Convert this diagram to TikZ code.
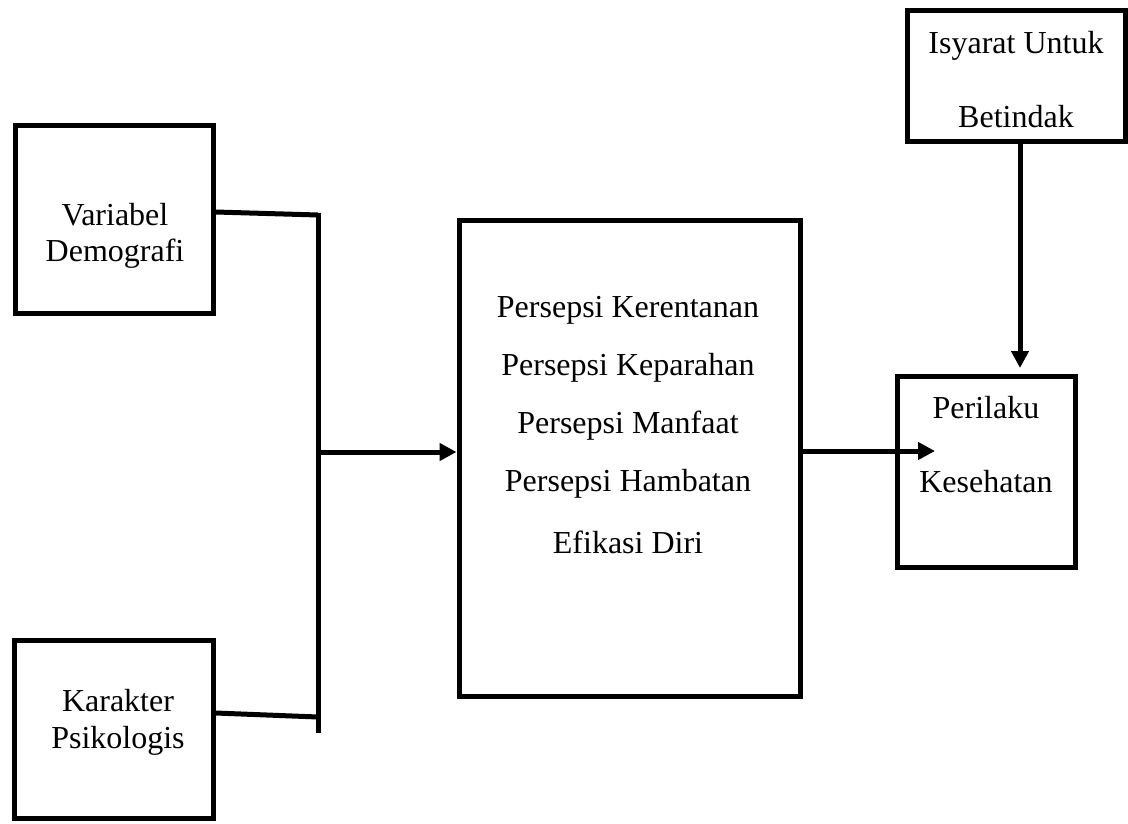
\documentclass[tikz,border=0pt]{standalone}
\usepackage{fontspec}
\setmainfont{Liberation Serif}
\usepackage{tikz}
\usetikzlibrary{positioning}
\usetikzlibrary{arrows.meta,calc}

\begin{document}
\begin{tikzpicture}[x=1pt, y=-1pt,
  kotak/.style={draw, line width=5pt, rectangle, inner sep=0pt},
  teks/.style={align=center, font=\fontsize{32}{36}\selectfont},
  garis/.style={line width=5pt},
  panah/.style={line width=5pt, -{Triangle[length=17pt,width=17pt]}}]

 \useasboundingbox (0,0) rectangle (1128,823);

 %kotak kiri
 \node[kotak, minimum width=198pt, minimum height=188pt] (demo) at (114,219) {};
 \node[teks] (demoT) at (115,236) {Variabel\\Demografi};

 \node[kotak, minimum width=199pt, minimum height=178pt] (psiko) at (113.5,729) {};
 \node[teks, font=\fontsize{32}{37}\selectfont] (psikoT) at (118,722) {Karakter\\Psikologis};

 %kotak tengah
 \node[kotak, minimum width=341pt, minimum height=476pt] (tengah) at (629.5,458) {};
 \foreach \i/\name in {0/Persepsi Kerentanan, 1/Persepsi Keparahan, 2/Persepsi Manfaat,
                       3/Persepsi Hambatan, 4/Efikasi Diri} {
   \node[teks] (P\i) at (628, 310+\i*58) {\name};
 }

 %kotak kanan
 \node[kotak, minimum width=178pt, minimum height=191pt] (perilaku) at (986,472) {};
 \node[teks, font=\fontsize{32}{74}\selectfont] (perilakuT) at (986,445) {Perilaku\\Kesehatan};

 \node[kotak, minimum width=218pt, minimum height=131pt] (isyarat) at (1016,75.5) {};
 \node[teks, font=\fontsize{32}{74}\selectfont] (isyaratT) at (1016,80) {Isyarat Untuk\\Betindak};

 %garis penghubung
 \coordinate (atas) at (318,215);
 \coordinate (bawah) at (318,733);
 \coordinate (cabang) at (318,452);
 \coordinate (ujung) at (935,451);

 \draw[garis] ([yshift=7pt]demo.east) -- (atas);
 \draw[garis] ([yshift=16pt]psiko.east) -- ($(bawah)+(0,-16)$);
 \draw[garis] ($(atas)+(0,-2.5)$) -- (bawah);

 %panah
 \draw[panah] (cabang) -- (tengah.west |- cabang);
 \draw[panah] (tengah.east |- ujung) -- (ujung);
 \draw[panah, shorten >=6pt] ([xshift=4pt]isyarat.south) -- ([xshift=4pt]isyarat.south |- perilaku.north);
\end{tikzpicture}
\end{document}
